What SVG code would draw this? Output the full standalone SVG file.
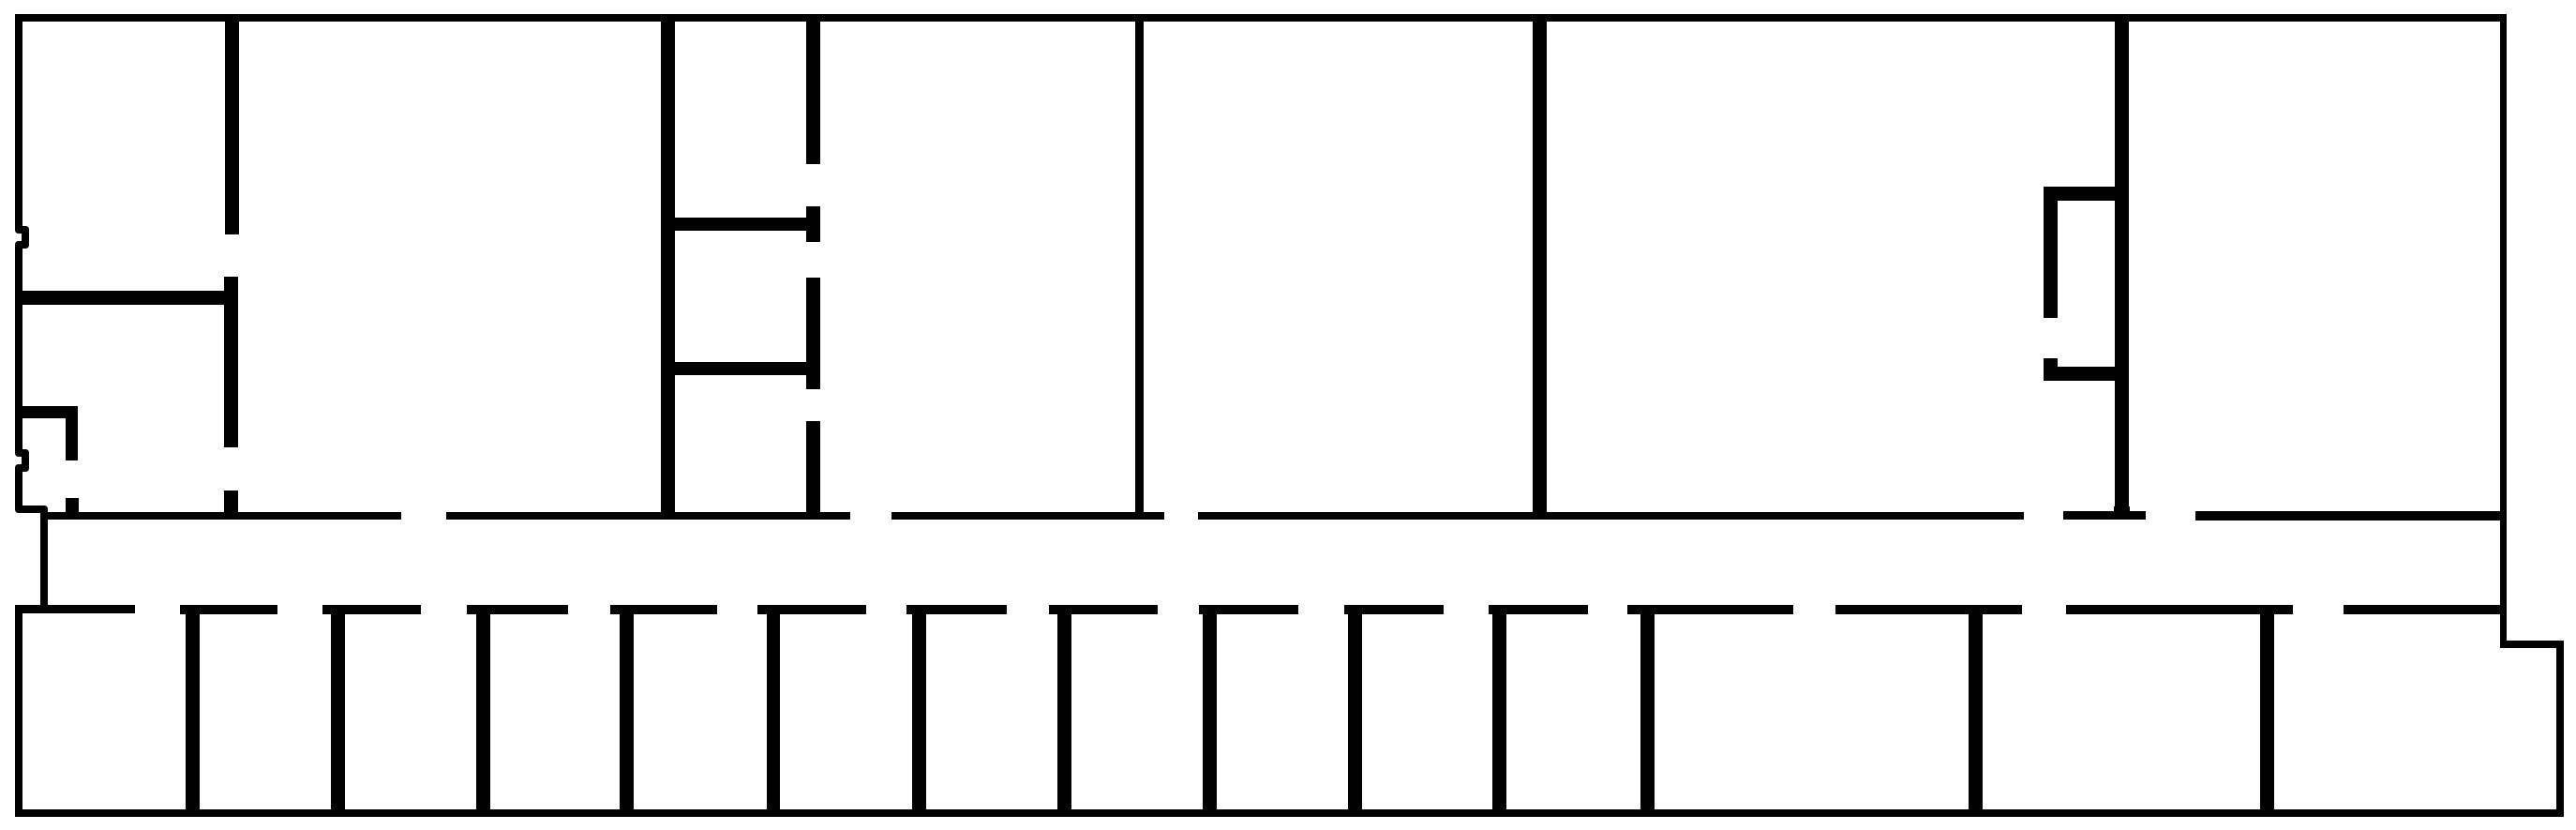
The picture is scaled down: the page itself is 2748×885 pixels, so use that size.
<svg xmlns="http://www.w3.org/2000/svg" width="2748" height="885" viewBox="0 0 2748 885">
<style>.o{fill:none;stroke:#000;stroke-width:8;stroke-linejoin:round}rect{fill:#000}</style>
<rect x="0" y="0" width="2748" height="885" style="fill:#fff"/>
<g id="outer-walls">
<path class="o" d="M20 19V245H27V261H20V483H27V499H20V543H47V649"/>
<rect x="16" y="15" width="2658" height="8"/>
<rect x="2667" y="15" width="7" height="676"/>
<rect x="2667" y="683" width="68" height="8"/>
<rect x="2727" y="683" width="8" height="188"/>
<rect x="16" y="863" width="2719" height="8"/>
<rect x="16" y="645" width="8" height="226"/>
</g>
<g id="upper-walls">
<rect x="240" y="23" width="15" height="227"/>
<rect x="239" y="295" width="15" height="182"/>
<rect x="239" y="523" width="15" height="23"/>
<rect x="24" y="310" width="215" height="15"/>
<rect x="24" y="433" width="59" height="13"/>
<rect x="70" y="446" width="13" height="45"/>
<rect x="70" y="531" width="14" height="15"/>
<rect x="705" y="23" width="15" height="523"/>
<rect x="720" y="232" width="140" height="14"/>
<rect x="720" y="386" width="140" height="14"/>
<rect x="860" y="23" width="15" height="152"/>
<rect x="860" y="220" width="15" height="38"/>
<rect x="860" y="296" width="15" height="119"/>
<rect x="860" y="449" width="15" height="97"/>
<rect x="1211" y="23" width="9" height="523"/>
<rect x="1635" y="23" width="15" height="523"/>
<rect x="2256" y="23" width="15" height="523"/>
<rect x="2255" y="540" width="17" height="6"/>
<rect x="2180" y="199" width="76" height="15"/>
<rect x="2180" y="199" width="15" height="140"/>
<rect x="2180" y="382" width="15" height="24"/>
<rect x="2180" y="391" width="76" height="15"/>
</g>
<g id="corridor-upper">
<rect x="43" y="546" width="385" height="8"/>
<rect x="476" y="546" width="431" height="8"/>
<rect x="951" y="546" width="291" height="8"/>
<rect x="1278" y="546" width="881" height="8"/>
<rect x="2201" y="545" width="88" height="9"/>
<rect x="2342" y="545" width="325" height="10"/>
</g>
<g id="corridor-lower">
<rect x="16" y="645" width="128" height="9"/>
<rect x="192" y="645" width="104" height="10"/>
<rect x="344" y="645" width="105" height="10"/>
<rect x="498" y="645" width="108" height="10"/>
<rect x="651" y="645" width="114" height="10"/>
<rect x="808" y="645" width="116" height="10"/>
<rect x="967" y="645" width="107" height="10"/>
<rect x="1119" y="645" width="116" height="10"/>
<rect x="1279" y="645" width="106" height="10"/>
<rect x="1434" y="645" width="106" height="10"/>
<rect x="1588" y="645" width="106" height="10"/>
<rect x="1736" y="645" width="177" height="10"/>
<rect x="1958" y="645" width="199" height="10"/>
<rect x="2204" y="645" width="242" height="10"/>
<rect x="2500" y="645" width="167" height="10"/>
</g>
<g id="lower-walls">
<rect x="198" y="655" width="15" height="208"/>
<rect x="353" y="655" width="15" height="208"/>
<rect x="508" y="655" width="15" height="208"/>
<rect x="661" y="655" width="15" height="208"/>
<rect x="818" y="655" width="14" height="208"/>
<rect x="973" y="655" width="15" height="208"/>
<rect x="1128" y="655" width="15" height="208"/>
<rect x="1283" y="655" width="15" height="208"/>
<rect x="1438" y="655" width="15" height="208"/>
<rect x="1592" y="655" width="15" height="208"/>
<rect x="1750" y="655" width="15" height="208"/>
<rect x="2100" y="655" width="15" height="208"/>
<rect x="2411" y="655" width="15" height="208"/>
</g>
</svg>
